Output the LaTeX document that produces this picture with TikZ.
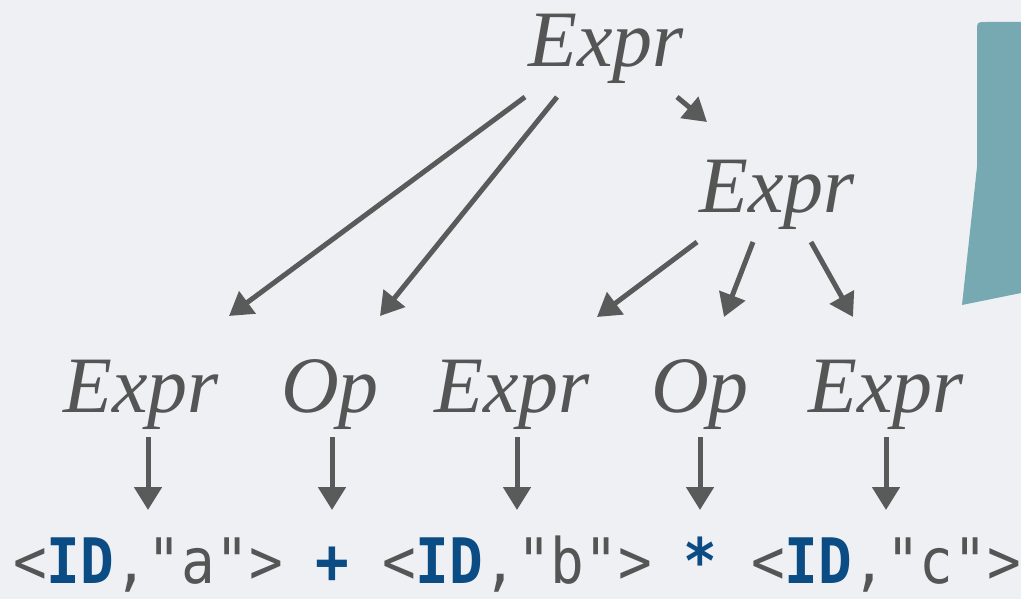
\documentclass[tikz,border=0pt]{standalone}
\usepackage{fontspec}
\usepackage{graphicx}
\setmainfont{Liberation Serif}
\newfontfamily\codefont{DejaVu Sans Mono}
\usetikzlibrary{arrows.meta,calc}
\definecolor{bg}{HTML}{EFF0F3}
\definecolor{ink}{HTML}{555555}
\definecolor{arrowgray}{HTML}{595B5B}
\definecolor{idblue}{HTML}{0B4C84}
\definecolor{teal}{HTML}{76A9B2}
\tikzset{
  nt/.style={inner sep=0pt, anchor=base, text=ink, font=\fontsize{80}{96}\selectfont\itshape},
  tok/.style={inner sep=0pt, anchor=base, text=ink, font=\fontsize{56}{66}\selectfont\codefont},
  arr/.style={draw=arrowgray, line width=5pt, -{Triangle[length=23pt,width=27pt]}, arrowgray},
}
\newcommand{\idb}{\textcolor{idblue}{\bfseries ID}}
\newcommand{\tall}[1]{\scalebox{1}[1.12]{#1}}
\begin{document}
\begin{tikzpicture}[x=1pt,y=-1pt]
\useasboundingbox (0,0) rectangle (1021,599);
\fill[bg] (0,0) rectangle (1021,599);
% teal card
\fill[teal] (1021,22) -- (986,22) .. controls (977,22) .. (977,31) -- (977,167) -- (962,305) -- (1021,293) -- cycle;
% nonterminals
\node[nt] (top) at (606,67) {Expr};
\node[nt] (mid) at (777,212) {Expr};
\node[nt] (e1) at (141,412) {Expr};
\node[nt] (o1) at (330,412) {Op};
\node[nt] (e2) at (512,412) {Expr};
\node[nt] (o2) at (700,412) {Op};
\node[nt] (e3) at (886,412) {Expr};
% tokens
\node[tok] (t1) at (148,583) {\tall{<\idb,"a">}};
\node[tok] (t2) at (332,583) {\tall{\textcolor{idblue}{\bfseries +}}};
\node[tok] (t3) at (517,583) {\tall{<\idb,"b">}};
\node[tok] (t4) at (700,583) {\tall{\textcolor{idblue}{\bfseries *}}};
\node[tok] (t5) at (886,583) {\tall{<\idb,"c">}};
% tree arrows
\draw[arr] ($(top.base)+(-81,30)$) -- ($(e1.base)+(88,-96)$);
\draw[arr] ($(top.base)+(-49,30)$) -- ($(o1.base)+(50,-96)$);
\draw[arr] ($(top.base)+(71,30)$) -- ($(mid.base)+(-70,-90)$);
\draw[arr] ($(mid.base)+(-80,30)$) -- ($(e2.base)+(85,-95)$);
\draw[arr] ($(mid.base)+(-24,30)$) -- ($(o2.base)+(24,-95)$);
\draw[arr] ($(mid.base)+(34,30)$) -- ($(e3.base)+(-33,-95)$);
% leaf arrows
\draw[arr] ($(e1.base -| t1.base)+(0,25)$) -- ($(t1.base)+(0,-73)$);
\draw[arr] ($(o1.base -| t2.base)+(0,25)$) -- ($(t2.base)+(0,-73)$);
\draw[arr] ($(e2.base -| t3.base)+(0,25)$) -- ($(t3.base)+(0,-73)$);
\draw[arr] ($(o2.base -| t4.base)+(0,25)$) -- ($(t4.base)+(0,-73)$);
\draw[arr] ($(e3.base -| t5.base)+(0,25)$) -- ($(t5.base)+(0,-73)$);
\end{tikzpicture}
\end{document}
